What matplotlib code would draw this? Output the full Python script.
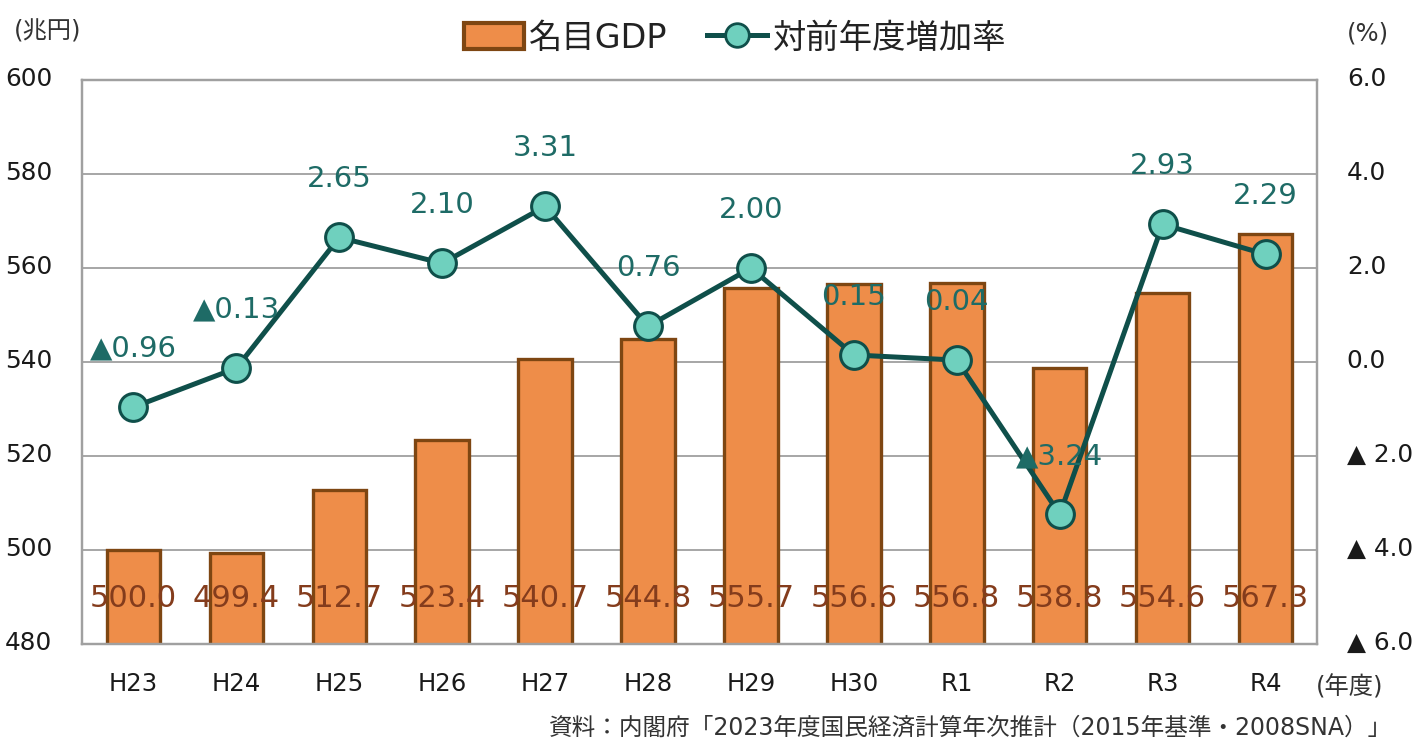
import matplotlib
matplotlib.use("Agg")
import matplotlib.pyplot as plt
import matplotlib.transforms as mtransforms
from matplotlib.lines import Line2D
from matplotlib.patches import Patch

plt.rcParams['font.family'] = ['DejaVu Sans', 'Noto Sans CJK JP']

years = ["H23", "H24", "H25", "H26", "H27", "H28", "H29", "H30", "R1", "R2", "R3", "R4"]
gdp = [500.0, 499.4, 512.7, 523.4, 540.7, 544.8, 555.7, 556.6, 556.8, 538.8, 554.6, 567.3]
growth = [-0.96, -0.13, 2.65, 2.10, 3.31, 0.76, 2.00, 0.15, 0.04, -3.24, 2.93, 2.29]
left_ticks = [480, 500, 520, 540, 560, 580, 600]
right_ticks = [-6.0, -4.0, -2.0, 0.0, 2.0, 4.0, 6.0]

bar_fill = '#EE8D49'
bar_edge = '#7E4612'
line_col = '#0F4F4A'
marker_fill = '#6FD0BE'
label_teal = '#1E6B66'
label_brown = '#843C1C'
text_col = '#1a1a1a'

fig = plt.figure(figsize=(14.24, 7.4), dpi=100)
ax = fig.add_axes([82/1424, 1-644/740, (1317-82)/1424, (644-80)/740])
ax2 = ax.twinx()

x = list(range(len(years)))
ax.bar(x, gdp, width=0.52, color=bar_fill, edgecolor=bar_edge, linewidth=2.4, zorder=2)
ax.set_ylim(480, 600)
ax.set_xlim(-0.5, len(years) - 0.5)
ax.set_yticks(left_ticks)
ax.set_yticklabels([str(v) for v in left_ticks])
ax.grid(axis='y', color='#A6A6A6', linewidth=1.4, zorder=0)
ax.set_axisbelow(True)
for axx in (ax, ax2):
    for s in axx.spines.values():
        s.set_color('#A0A0A0')
        s.set_linewidth(1.6)
ax.tick_params(axis='y', length=0, pad=21.5, labelsize=17.8, colors=text_col)
ax.tick_params(axis='x', length=0, pad=20, labelsize=17.6, colors=text_col)
ax.set_xticks(x)
ax.set_xticklabels(years)

up = mtransforms.ScaledTranslation(0, 4/100, fig.dpi_scale_trans)
for lbl in ax.get_yticklabels():
    lbl.set_transform(lbl.get_transform() + up)

for xi, v in zip(x, gdp):
    ax.text(xi, 489.6, f"{v:.1f}", ha='center', va='center', fontsize=22,
            color=label_brown, zorder=5)

ax2.plot(x, growth, color=line_col, linewidth=3.6, marker='o', markersize=20,
         markerfacecolor=marker_fill, markeredgecolor=line_col, markeredgewidth=2.2, zorder=4)
ax2.set_ylim(-6, 6)
ax2.set_yticks(right_ticks)


def fmt(v):
    if v < 0:
        return f"▲ {abs(v):.1f}"
    return f"{v:.1f}"


ax2.set_yticklabels([fmt(v) for v in right_ticks])
ax2.tick_params(axis='y', length=0, pad=21.5, labelsize=17.8, colors=text_col)
for lbl in ax2.get_yticklabels():
    lbl.set_transform(lbl.get_transform() + up)

for xi, v in zip(x, growth):
    s = f"▲{abs(v):.2f}" if v < 0 else f"{v:.2f}"
    ax2.annotate(s, (xi, v), xytext=(0, 42), textcoords='offset points',
                 ha='center', va='center', fontsize=21, color=label_teal, zorder=6)

fig.text(48/1424, 1-32/740, "(兆円)", ha='center', va='center', fontsize=17.5, color='#333333')
fig.text(1368/1424, 1-33/740, "(%)", ha='center', va='center', fontsize=17.5, color='#333333')
fig.text(1350/1424, 1-687/740, "(年度)", ha='center', va='center', fontsize=17.5, color='#333333')
fig.text(1392/1424, 1-728/740, "資料：内閣府「2023年度国民経済計算年次推計（2015年基準・2008SNA）」",
         ha='right', va='center', fontsize=17, color='#333333')

handles = [Patch(facecolor=bar_fill, edgecolor=bar_edge, linewidth=3),
           Line2D([0], [0], color=line_col, linewidth=3.6, marker='o', markersize=17,
                  markerfacecolor=marker_fill, markeredgecolor=line_col, markeredgewidth=2)]
fig.legend(handles, ["名目GDP", "対前年度増加率"], loc='center', bbox_to_anchor=(735/1424, 1-38/740),
           ncol=2, frameon=False, fontsize=24, handlelength=1.8, handleheight=0.8,
           columnspacing=1.2, handletextpad=0.15, labelcolor='#222222')

fig.savefig("out.png", dpi=100)
